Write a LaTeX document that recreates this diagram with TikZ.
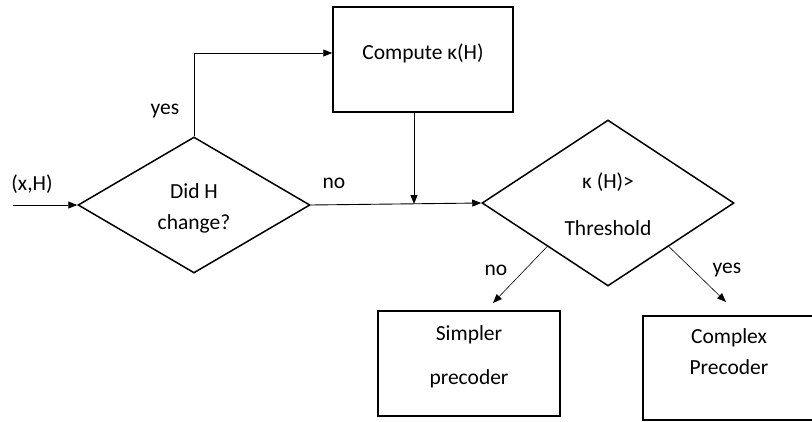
\documentclass[tikz,border=0pt]{standalone}
\usepackage{fontspec}
\setmainfont{Carlito}
\usetikzlibrary{positioning,shapes.geometric,arrows.meta,calc}
\definecolor{ink}{HTML}{000000}
\tikzset{
  box/.style={draw=ink, line width=1.5pt, align=center, inner sep=0pt},
  decide/.style={diamond, draw=ink, line width=1.5pt, align=center,
                 inner sep=1pt},
  note/.style={anchor=base, inner sep=0pt},
  flow/.style={-{Triangle[length=9pt,width=7pt]}, line width=0.9pt, draw=ink},
  branch/.style={-{Triangle[length=9pt,width=7pt]}, line width=0.6pt,
                 draw=ink},
}

\begin{document}
\begin{tikzpicture}[x=1pt, y=-1pt, font=\fontsize{21.5}{31}\selectfont]
  \useasboundingbox (0,0) rectangle (812,421);

  % the two tests
  \node[decide, minimum width=232pt, minimum height=136pt,
        text height=48pt, text depth=0pt] (dec1) at (194,205)
    {Did H\\change?};
  \node[decide, minimum width=252pt, minimum height=166pt,
        text height=64pt, text depth=0pt] (dec2) at (608,203)
    {κ (H)>\\[16pt]Threshold};

  % boxes
  \node[box, minimum width=180pt, minimum height=105pt,
        text height=12pt, text depth=13pt] (comp) at (423,59.5)
    {Compute κ(H)};
  \node[box, minimum width=182pt, minimum height=105pt,
        text height=41pt, text depth=0pt] (simp) at (469,363.5)
    {Simpler\\[13pt]precoder};
  \node[box, minimum width=172pt, minimum height=104pt,
        text height=30pt, text depth=18pt] (cplx) at (729,368)
    {Complex\\Precoder};

  \coordinate (src) at (13,205);
  \coordinate (merge) at (414,204);
  \coordinate (noEnd) at (493,303);
  \coordinate (yesEnd) at (726,302);

  \draw[flow] (src) -- (dec1.west);
  \draw[flow] (dec1.north) |- ($(comp.west)+(0,-6.5)$);
  \draw[flow] (dec1.east) -- (dec2.west);
  \draw[flow] (comp.south -| merge) -- (merge);
  \draw[branch] ($(dec2.west)!0.52!(dec2.south)$) -- (noEnd);
  \draw[branch] ($(dec2.east)!0.52!(dec2.south)$) -- (yesEnd);

  % labels on the lines
  \node[note] (inLbl) at (32,190) {(x,H)};
  \node[note] (yesLbl) at (165,114) {yes};
  \node[note] (noLbl) at (334,188) {no};
  \node[note] (noLbl2) at (496,275) {no};
  \node[note] (yesLbl2) at (727,273) {yes};
\end{tikzpicture}
\end{document}
